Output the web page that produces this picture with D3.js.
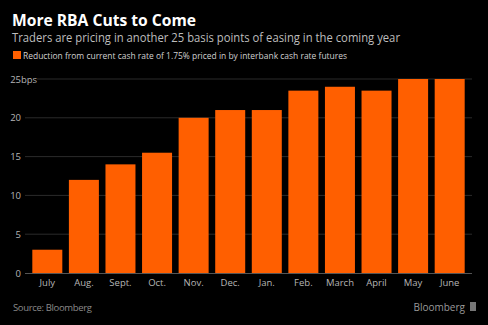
<!DOCTYPE html>
<html><head><meta charset="utf-8">
<script src="https://cdn.jsdelivr.net/npm/d3@7"></script>
<style>html,body{margin:0;padding:0;background:#000;}svg{display:block;}</style>
</head><body>
<script>
const months = ["July","Aug.","Sept.","Oct.","Nov.","Dec.","Jan.","Feb.","March","April","May","June"];
const values = [3, 12, 14, 15.5, 20, 21, 21, 23.5, 24, 23.5, 25, 25];
const yTicks = [0, 5, 10, 15, 20, 25];

const W = 488, H = 325;
const svg = d3.select("body").append("svg").attr("width", W).attr("height", H);
svg.append("rect").attr("width", W).attr("height", H).attr("fill", "#000");

const font = "'Open Sans', 'DejaVu Sans', sans-serif";
const x = d3.scaleBand().domain(months).range([25, 472]).paddingInner(0.18).paddingOuter(0.2);
const y = d3.scaleLinear().domain([0, 25]).range([273, 79]);

// title
svg.append("text").attr("x", 12).attr("y", 26).attr("fill", "#fff")
  .attr("font-family", font).attr("font-weight", "bold").attr("font-size", 16.5)
  .attr("textLength", 184).attr("lengthAdjust", "spacingAndGlyphs").text("More RBA Cuts to Come");
svg.append("text").attr("x", 12).attr("y", 42).attr("fill", "#bdbdbd")
  .attr("font-family", font).attr("font-size", 12.5)
  .attr("textLength", 388).attr("lengthAdjust", "spacingAndGlyphs")
  .text("Traders are pricing in another 25 basis points of easing in the coming year");
svg.append("rect").attr("x", 13).attr("y", 51).attr("width", 8).attr("height", 8).attr("fill", "#ff5f00");
svg.append("text").attr("x", 23).attr("y", 58.5).attr("fill", "#d0d0d0")
  .attr("font-family", font).attr("font-size", 8.6)
  .attr("textLength", 324).attr("lengthAdjust", "spacingAndGlyphs")
  .text("Reduction from current cash rate of 1.75% priced in by interbank cash rate futures");

// gridlines & y labels
const g = svg.append("g");
yTicks.forEach(t => {
  if (t > 0) {
    g.append("line").attr("x1", t === 25 ? 37 : 25).attr("x2", 472)
      .attr("y1", y(t)).attr("y2", y(t)).attr("stroke", "#2b2b2b").attr("stroke-width", 1);
  }
  g.append("text").attr("x", 21).attr("y", y(t) + 3.5).attr("text-anchor", "end")
    .attr("fill", "#b5b5b5").attr("font-family", font).attr("font-size", 9.5).text(t);
  if (t === 25) {
    g.append("text").attr("x", 21).attr("y", y(t) + 3.5).attr("text-anchor", "start")
      .attr("fill", "#b5b5b5").attr("font-family", font).attr("font-size", 9.5).text("bps");
  }
});

// bars
svg.append("g").selectAll("rect").data(values).join("rect")
  .attr("x", (d, i) => x(months[i])).attr("width", x.bandwidth())
  .attr("y", d => y(d)).attr("height", d => y(0) - y(d)).attr("fill", "#ff5f00");

// x axis
svg.append("line").attr("x1", 25).attr("x2", 472).attr("y1", y(0) + 0.5).attr("y2", y(0) + 0.5)
  .attr("stroke", "#555").attr("stroke-width", 1);
months.forEach(m => {
  svg.append("text").attr("x", x(m) + x.bandwidth() / 2).attr("y", 286).attr("text-anchor", "middle")
    .attr("fill", "#b5b5b5").attr("font-family", font).attr("font-size", 9.5).text(m);
});

// footer
svg.append("text").attr("x", 13).attr("y", 311).attr("fill", "#8a8a8a")
  .attr("font-family", font).attr("font-size", 9.5)
  .attr("textLength", 79).attr("lengthAdjust", "spacing").text("Source: Bloomberg");
svg.append("text").attr("x", 465).attr("y", 311).attr("text-anchor", "end").attr("fill", "#9a9a9a")
  .attr("font-family", font).attr("font-size", 10).text("Bloomberg");
svg.append("rect").attr("x", 470).attr("y", 302).attr("width", 6).attr("height", 9).attr("fill", "#777");
</script>
</body></html>
